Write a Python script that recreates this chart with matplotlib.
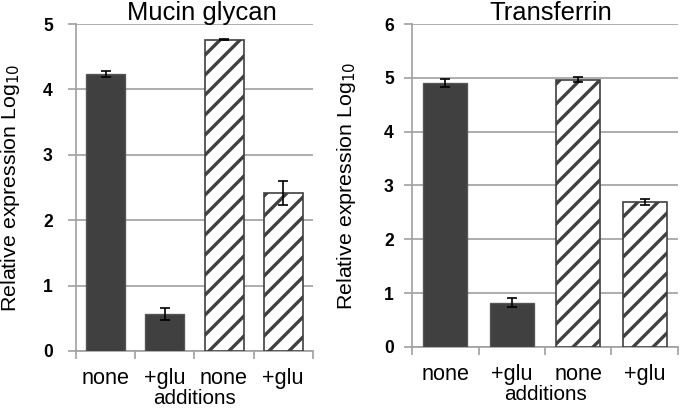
import numpy as np
import matplotlib
matplotlib.use("Agg")
import matplotlib.pyplot as plt

plt.rcParams['font.family'] = ['Liberation Sans', 'DejaVu Sans']
plt.rcParams['hatch.linewidth'] = 2.0

# datos
categorias = ["none", "+glu", "none", "+glu"]
mucina = [4.24, 0.56, 4.76, 2.42]
mucina_err = [0.05, 0.09, 0.01, 0.18]
transferrina = [4.91, 0.82, 4.97, 2.69]
transferrina_err = [0.07, 0.08, 0.04, 0.05]
rellenos = ["solid", "solid", "hatch", "hatch"]

oscuro = "#404040"
gris = "#a0a0a0"

dpi = 120
fig = plt.figure(figsize=(680 / dpi, 409 / dpi), dpi=dpi)
ax1 = fig.add_axes([0.112, 0.142, 0.348, 0.799])
ax2 = fig.add_axes([0.606, 0.152, 0.391, 0.789])


def dibujar(ax, valores, errores, ymax, titulo, titulo_x, pad_y):
    x = np.arange(len(valores))
    for i in range(len(valores)):
        if rellenos[i] == "solid":
            ax.bar(x[i], valores[i], 0.66, color=oscuro, edgecolor="#555555",
                   linewidth=0.8, zorder=3)
        else:
            ax.bar(x[i], valores[i], 0.66, color="white", edgecolor=oscuro,
                   hatch="//", linewidth=1.0, zorder=3)
    ax.errorbar(x, valores, yerr=errores, fmt="none", ecolor="black",
                elinewidth=1.0, capsize=3, capthick=1.0, zorder=4)
    ax.set_xlim(-0.5, len(valores) - 0.5)
    ax.set_ylim(0, ymax)
    ax.set_yticks(range(ymax + 1))
    ax.set_yticklabels([str(v) for v in range(ymax + 1)], fontsize=10.5,
                       fontweight="bold")
    ax.set_xticks(x)
    ax.set_xticklabels(categorias, fontsize=13)
    ax.set_xticks(np.arange(-0.5, len(valores)), minor=True)
    ax.tick_params(axis="x", which="major", length=0, pad=10.5)
    ax.tick_params(axis="x", which="minor", length=5, width=1.0, color=gris)
    ax.tick_params(axis="y", length=5, width=1.0, color=gris, pad=pad_y)
    ax.yaxis.grid(True, color=gris, linewidth=1.0, zorder=0)
    ax.set_axisbelow(True)
    for s in ["top", "right"]:
        ax.spines[s].set_visible(False)
    for s in ["left", "bottom"]:
        ax.spines[s].set_color(gris)
        ax.spines[s].set_linewidth(1.0)
    ax.set_ylabel("Relative expression Log$_{10}$", fontsize=12.8)
    ax.set_xlabel("additions", fontsize=12.4, labelpad=0)
    fig.text(titulo_x, 1 - 20 / 409, titulo, fontsize=15.4, ha="center",
             va="baseline")


dibujar(ax1, mucina, mucina_err, 5, "Mucin glycan", 202 / 680, 9)
dibujar(ax2, transferrina, transferrina_err, 6, "Transferrin", 551 / 680, 6)
ax1.yaxis.set_label_coords(-0.227, 0.5)
ax2.yaxis.set_label_coords(-0.203, 0.5)

fig.savefig("out.png", dpi=dpi)
